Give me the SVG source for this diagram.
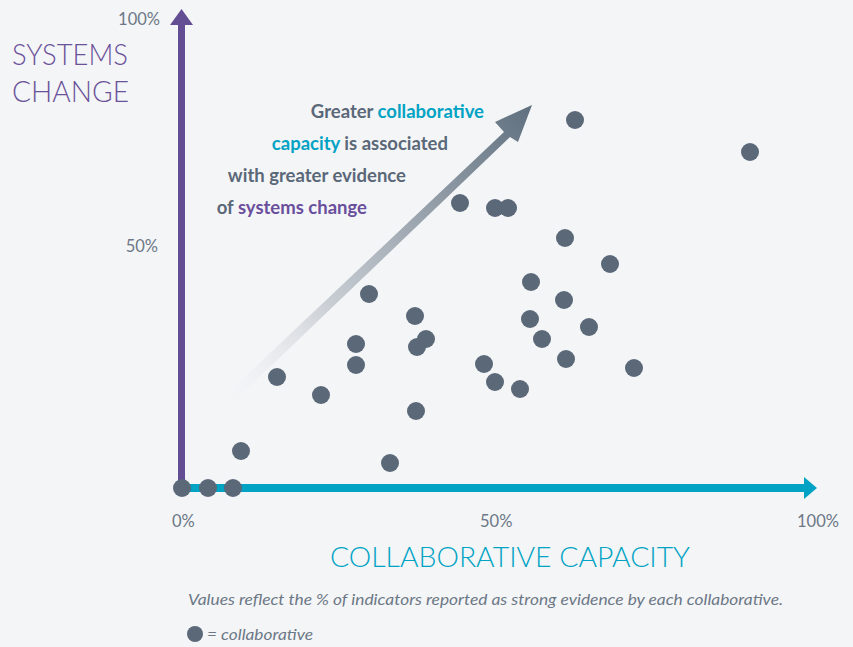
<svg xmlns="http://www.w3.org/2000/svg" width="853" height="647" viewBox="0 0 853 647">
<defs>
<style>
.tick{font-family:Lato,"Liberation Sans",sans-serif;font-size:16.5px;fill:#6c7886}
.call{font-family:Lato,"Liberation Sans",sans-serif;font-size:18.5px;font-weight:bold;fill:#5a6878}
.teal{fill:#00a3c4}
.purp{fill:#6a4f9c}
.dot{fill:#5a6878}
.cap{font-family:Lato,"Liberation Sans",sans-serif;font-size:16px;font-style:italic;fill:#6c7886}
</style>
<linearGradient id="ga" x1="215" y1="405" x2="532" y2="105" gradientUnits="userSpaceOnUse">
<stop offset="0" stop-color="#f4f5f7" stop-opacity="0"/>
<stop offset="0.35" stop-color="#c9ced4"/>
<stop offset="1" stop-color="#5f6f7e"/>
</linearGradient>
</defs>
<rect width="853" height="647" fill="#f4f5f7"/>
<g id="trend">
<path d="M215,405 L504,132 L495,122 L532,105 L518,142 L510,137 L222,413 Z" fill="url(#ga)"/>
</g>
<g id="axes">
<rect x="178" y="22" width="7" height="470" fill="#634e94"/>
<polygon points="181.5,9 193,25 170,25" fill="#634e94"/>
<rect x="178" y="484" width="628" height="8" fill="#00a3c4"/>
<polygon points="817,488 804,477 804,499" fill="#00a3c4"/>
</g>
<g id="labels">
<text class="tick" x="160" y="25" text-anchor="end">100%</text>
<text class="tick" x="158" y="252" text-anchor="end">50%</text>
<text class="tick" x="172" y="527">0%</text>
<text class="tick" x="480" y="527">50%</text>
<text class="tick" x="797" y="527">100%</text>
<text x="12" y="65" font-family="Lato,'Liberation Sans',sans-serif" font-size="29" font-weight="300" fill="#6a5199" textLength="116" lengthAdjust="spacingAndGlyphs">SYSTEMS</text>
<text x="12" y="102" font-family="Lato,'Liberation Sans',sans-serif" font-size="29" font-weight="300" fill="#6a5199" textLength="117" lengthAdjust="spacingAndGlyphs">CHANGE</text>
<text x="330" y="567" font-family="Lato,'Liberation Sans',sans-serif" font-size="27" font-weight="300" fill="#00a3c4" textLength="360" lengthAdjust="spacingAndGlyphs">COLLABORATIVE CAPACITY</text>
</g>
<g id="callout">
<text class="call" x="484" y="118" text-anchor="end">Greater <tspan class="teal">collaborative</tspan></text>
<text class="call" x="448" y="150" text-anchor="end"><tspan class="teal">capacity</tspan> is associated</text>
<text class="call" x="406" y="182" text-anchor="end">with greater evidence</text>
<text class="call" x="367" y="214" text-anchor="end">of <tspan class="purp">systems change</tspan></text>
</g>
<g id="points">
<circle class="dot" cx="182" cy="488" r="9"/>
<circle class="dot" cx="208" cy="488" r="9"/>
<circle class="dot" cx="233" cy="488" r="9"/>
<circle class="dot" cx="241" cy="451" r="9"/>
<circle class="dot" cx="277" cy="377" r="9"/>
<circle class="dot" cx="321" cy="395" r="9"/>
<circle class="dot" cx="356" cy="344" r="9"/>
<circle class="dot" cx="356" cy="365" r="9"/>
<circle class="dot" cx="369" cy="294" r="9"/>
<circle class="dot" cx="390" cy="463" r="9"/>
<circle class="dot" cx="415" cy="316" r="9"/>
<circle class="dot" cx="417" cy="347" r="9"/>
<circle class="dot" cx="416" cy="411" r="9"/>
<circle class="dot" cx="426" cy="339" r="9"/>
<circle class="dot" cx="460" cy="203" r="9"/>
<circle class="dot" cx="484" cy="364" r="9"/>
<circle class="dot" cx="495" cy="382" r="9"/>
<circle class="dot" cx="495" cy="208" r="9"/>
<circle class="dot" cx="508" cy="208" r="9"/>
<circle class="dot" cx="520" cy="389" r="9"/>
<circle class="dot" cx="531" cy="282" r="9"/>
<circle class="dot" cx="530" cy="319" r="9"/>
<circle class="dot" cx="542" cy="339" r="9"/>
<circle class="dot" cx="565" cy="238" r="9"/>
<circle class="dot" cx="564" cy="300" r="9"/>
<circle class="dot" cx="566" cy="359" r="9"/>
<circle class="dot" cx="575" cy="120" r="9"/>
<circle class="dot" cx="589" cy="327" r="9"/>
<circle class="dot" cx="610" cy="264" r="9"/>
<circle class="dot" cx="634" cy="368" r="9"/>
<circle class="dot" cx="750" cy="152" r="9"/>
</g>
<g id="caption">
<text class="cap" x="188" y="605" textLength="595" lengthAdjust="spacingAndGlyphs">Values reflect the % of indicators reported as strong evidence by each collaborative.</text>
<circle class="dot" cx="195" cy="634" r="8"/>
<text class="cap" x="207" y="640" textLength="106" lengthAdjust="spacingAndGlyphs">= collaborative</text>
</g>
</svg>
